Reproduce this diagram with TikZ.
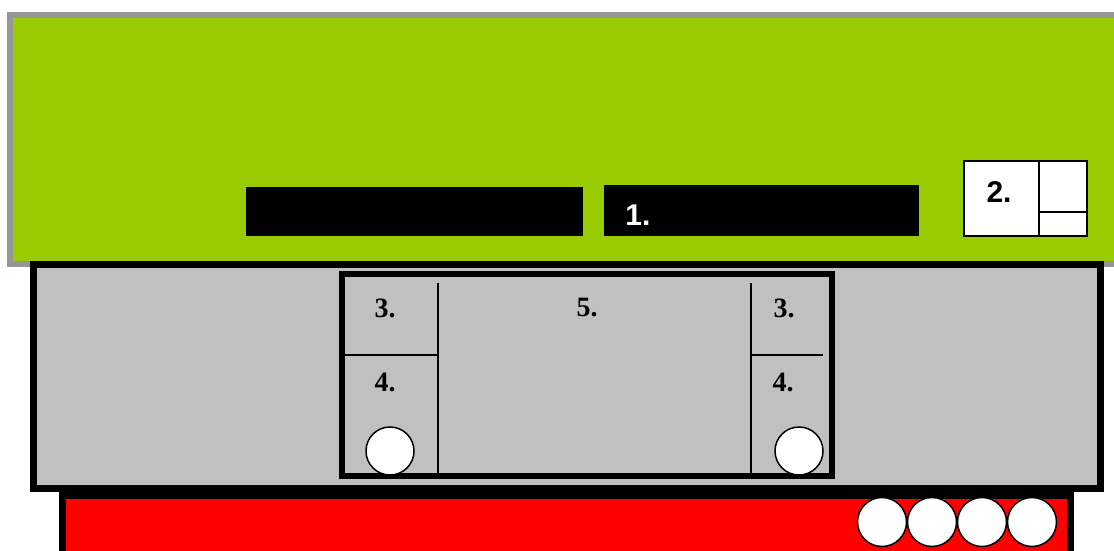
\documentclass[tikz,border=0pt]{standalone}
\usepackage{fontspec}
\setmainfont{Liberation Sans}
\newfontfamily\numserif{Liberation Serif}
\usepackage{tikz}

\definecolor{leaf}{HTML}{99CC00}
\definecolor{rimgrey}{HTML}{969696}
\definecolor{panelgrey}{HTML}{C0C0C0}

\tikzset{
  hole/.style={draw=black, line width=1.5pt, fill=white},
  serifnum/.style={font=\numserif\fontsize{28}{30}\selectfont\bfseries},
  sansnum/.style={font=\fontsize{30}{32}\selectfont\bfseries}
}

\begin{document}
\begin{tikzpicture}[x=1pt,y=-1pt]
                \useasboundingbox (0,0) rectangle (1114,551);
                \clip (0,0) rectangle (1114,551);

                % green top part
                \draw[line width=6.5pt, draw=rimgrey, fill=leaf] (10,15) rectangle (1130,264);
                \fill[black] (246,187) rectangle (583,236);
                \fill[black] (604,185) rectangle (919,236);
                \node[sansnum, text=white] (one) at (638,215) {1.};
                \draw[line width=1.2pt, fill=white] (964,161) rectangle (1087,236);
                \draw[line width=1.2pt] (1039,161) -- (1039,236);
                \draw[line width=1.2pt] (1039,212) -- (1087,212);
                \node[sansnum] (two) at (999,192) {2.};

                % grey and red parts
                \draw[line width=7pt, fill=red] (62,495) rectangle (1070,580);
                \draw[line width=7pt, fill=panelgrey] (33.5,264.5) rectangle (1100,488.5);

                \draw[line width=6pt] (342,274) rectangle (832,476);
                \draw[line width=1.5pt] (438,283) -- (438,473);
                \draw[line width=1.5pt] (751,283) -- (751,473);
                \draw[line width=1.5pt] (345,355) -- (438,355);
                \draw[line width=1.5pt] (751,355) -- (823,355);

                \node[serifnum] (tl) at (385,308) {3.};
                \node[serifnum] (tr) at (784,308) {3.};
                \node[serifnum] (mid) at (587,308) {5.};
                \node[serifnum] (bl) at (385,382) {4.};
                \node[serifnum] (br) at (783,382) {4.};

                \draw[hole] (390,451) circle (24pt);
                \draw[hole] (799,451) circle (24pt);
                \foreach \i in {0,...,3} {
                    \draw[hole] ({882+50*\i},522) circle (24.5pt);
                }
            \end{tikzpicture}
\end{document}
